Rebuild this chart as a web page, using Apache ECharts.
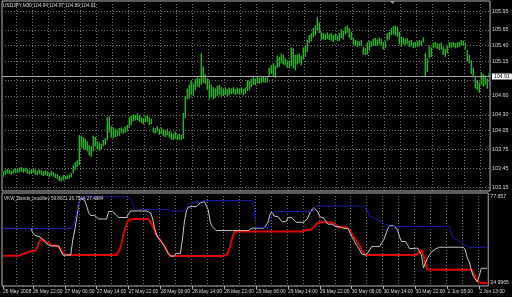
<!DOCTYPE html>
<html><head><meta charset="utf-8">
<script src="https://cdn.jsdelivr.net/npm/echarts@6/dist/echarts.min.js"></script>
<style>html,body{margin:0;padding:0;background:#000;}#c{width:512px;height:297px;}</style>
</head><body><div id="c"></div>
<script>
// ---------- texts ----------
const symbolTitle = 'USDJPY,M30 104.94 104.97 104.89 104.91';
const indicatorTitle = 'VKW_Bands_modifiey 59.8671 26.7544 27.4984';

// ---------- time axis ----------
const sessions = [
  { start: Date.UTC(2008, 4, 26, 14, 30), bars: 211 },
  { start: Date.UTC(2008, 5, 1, 23, 0), bars: 33 }
];
const MON = ['Jan','Feb','Mar','Apr','May','Jun','Jul','Aug','Sep','Oct','Nov','Dec'];
const categories = [];
sessions.forEach(s => {
  for (let k = 0; k < s.bars; k++) {
    const d = new Date(s.start + k * 1800000);
    categories.push(d.getUTCDate() + ' ' + MON[d.getUTCMonth()] + ' ' +
      String(d.getUTCHours()).padStart(2, '0') + ':' + String(d.getUTCMinutes()).padStart(2, '0'));
  }
});
const firstDateLabel = '26 May 2008';
const timeLabels = ['26 May 22:00','27 May 06:00','27 May 14:00','27 May 22:00','28 May 06:00','28 May 14:00',
  '28 May 22:00','29 May 06:00','29 May 14:00','29 May 22:00','30 May 06:00','30 May 14:00','30 May 22:00',
  '2 Jun 05:00','2 Jun 13:00'];

// ---------- price axis ----------
const priceGridValues = [105.95,105.65,105.40,105.15,104.85,104.60,104.30,104.05,103.75,103.45,103.15];
const priceLabelValues = [105.95,105.65,105.40,105.15,104.60,104.30,104.05,103.75,103.45,103.15];
const bidPrice = 104.91;
const indicatorLabelValues = [24.9965, 77.657];

// ---------- M30 bars: high / low ----------
const barHigh = [
103.40,103.42,103.44,103.43,103.41,103.43,103.45,103.44,103.46,103.47,
103.45,103.46,103.44,103.42,103.44,103.45,103.43,103.41,103.43,103.42,
103.40,103.42,103.40,103.38,103.41,103.39,103.37,103.36,103.33,103.31,
103.34,103.33,103.34,103.35,103.38,103.50,103.55,103.58,103.98,103.97,
103.95,103.92,103.88,103.82,103.80,103.97,103.95,103.88,103.86,103.84,
103.90,103.93,104.26,104.27,104.12,104.10,104.08,104.06,104.09,104.10,
104.08,104.11,104.14,104.27,104.29,104.31,104.30,104.32,104.29,104.27,
104.25,104.28,104.30,104.26,104.24,104.10,104.09,104.12,104.08,104.10,
104.07,104.05,104.08,104.04,104.02,104.00,104.03,103.99,104.00,103.98,
104.33,104.60,104.72,104.78,104.85,104.80,104.87,104.90,104.88,105.28,
105.07,104.95,104.88,104.85,104.78,104.74,104.72,104.76,104.78,104.74,
104.72,104.74,104.71,104.73,104.72,104.74,104.71,104.73,104.72,104.74,
104.71,104.73,104.85,104.84,104.87,104.90,104.88,104.91,104.89,104.90,
104.91,104.89,104.90,105.05,105.09,105.12,105.08,105.24,105.22,105.27,
105.25,105.20,105.17,105.16,105.37,105.36,105.25,105.26,105.28,105.24,
105.37,105.40,105.49,105.57,105.60,105.68,105.72,105.85,105.77,105.62,
105.60,105.59,105.61,105.58,105.60,105.57,105.59,105.56,105.60,105.66,
105.64,105.70,105.72,105.68,105.62,105.52,105.49,105.48,105.47,105.49,
105.38,105.36,105.45,105.48,105.47,105.51,105.52,105.50,105.53,105.51,
105.46,105.48,105.60,105.62,105.68,105.71,105.72,105.70,105.62,105.55,
105.53,105.51,105.52,105.48,105.49,105.45,105.46,105.47,105.49,105.48,
105.53,105.28,105.20,105.40,105.37,105.45,105.46,105.44,105.43,105.45,
105.38,105.35,105.40,105.46,105.45,105.46,105.44,105.45,105.46,105.49,
105.48,105.45,105.33,105.25,105.17,105.05,104.90,104.85,104.82,104.98,
104.95,104.92,104.88,104.97];
const barLow = [
103.31,103.35,103.37,103.36,103.35,103.37,103.38,103.38,103.39,103.40,
103.38,103.40,103.37,103.36,103.36,103.38,103.35,103.34,103.36,103.35,
103.33,103.35,103.33,103.31,103.34,103.32,103.30,103.28,103.25,103.24,
103.26,103.27,103.28,103.29,103.31,103.37,103.42,103.47,103.50,103.78,
103.76,103.74,103.72,103.66,103.64,103.72,103.80,103.75,103.73,103.74,
103.80,103.82,103.90,104.02,103.94,103.93,103.95,103.96,103.97,104.01,
104.00,104.02,104.04,104.10,104.14,104.20,104.21,104.22,104.19,104.17,
104.15,104.18,104.19,104.14,104.15,104.02,104.00,104.03,103.98,104.00,
103.96,103.95,103.98,103.94,103.91,103.90,103.92,103.90,103.91,103.90,
103.92,104.25,104.55,104.56,104.62,104.60,104.70,104.75,104.74,104.78,
104.81,104.79,104.70,104.55,104.58,104.55,104.57,104.60,104.62,104.58,
104.60,104.62,104.59,104.61,104.63,104.64,104.62,104.63,104.62,104.64,
104.61,104.63,104.68,104.70,104.74,104.78,104.77,104.80,104.80,104.81,
104.82,104.81,104.82,104.92,104.95,104.90,104.89,105.05,105.06,105.12,
105.10,105.09,105.05,105.04,105.08,105.04,105.01,105.10,105.12,105.09,
105.18,105.22,105.30,105.44,105.47,105.53,105.56,105.65,105.60,105.49,
105.50,105.49,105.51,105.49,105.48,105.46,105.49,105.47,105.48,105.52,
105.50,105.58,105.60,105.52,105.49,105.42,105.40,105.38,105.39,105.40,
105.26,105.25,105.26,105.32,105.38,105.40,105.40,105.39,105.42,105.40,
105.34,105.36,105.48,105.50,105.57,105.58,105.56,105.54,105.42,105.38,
105.42,105.41,105.43,105.38,105.39,105.36,105.37,105.38,105.39,105.40,
105.45,104.90,104.98,105.20,105.22,105.36,105.37,105.35,105.33,105.34,
105.25,105.22,105.28,105.36,105.37,105.38,105.36,105.37,105.38,105.40,
105.40,105.33,105.15,105.12,104.95,104.90,104.72,104.70,104.65,104.78,
104.75,104.78,104.72,104.89];

// ---------- indicator buffers ----------
const bandUpper = [
58.4,58.4,58.4,58.4,58.4,58.4,58.4,58.4,58.4,58.4,58.4,58.4,58.4,58.4,58.4,58.4,58.4,58.4,
58.4,58.4,58.4,58.4,58.4,58.4,58.4,58.4,58.4,58.4,58.4,58.4,58.4,58.4,58.4,58.4,58.4,58.4,
62.3,68.5,74.0,77.0,
77.657,77.657,77.657,77.657,77.657,77.657,77.657,77.657,77.657,77.657,77.657,77.657,77.657,
77.657,77.657,77.657,77.657,77.657,77.657,77.657,77.657,77.657,77.657,77.657,77.657,
74.0,70.9,
70.0,70.0,70.0,70.0,70.0,70.0,70.0,70.0,70.0,70.0,70.0,70.0,70.0,70.0,70.0,70.0,
69.1,69.1,69.1,69.1,69.1,69.1,69.1,69.1,69.1,
70.9,72.8,73.7,
74.6,74.6,74.6,74.6,74.6,
75.5,75.5,75.5,75.5,75.5,75.5,75.5,75.5,75.5,75.5,75.5,75.5,75.5,
75.5,75.5,75.5,75.5,75.5,75.5,75.5,75.5,75.5,75.5,75.5,75.5,75.5,
69.7,
59.0,59.0,59.0,59.0,59.0,59.0,59.0,
63.6,67.9,
68.8,68.8,68.8,68.8,68.8,68.8,68.8,68.8,68.8,68.8,68.8,68.8,68.8,68.8,68.8,68.8,68.8,68.8,68.8,68.8,68.8,
72.1,72.1,72.1,72.1,72.1,72.1,72.1,72.1,72.1,72.1,72.1,72.1,72.1,
72.1,72.1,72.1,72.1,72.1,72.1,72.1,72.1,72.1,72.1,72.1,72.1,72.1,
69.1,66.0,65.4,64.8,64.2,63.6,63.0,62.3,61.7,60.8,60.2,
59.6,59.6,59.6,59.6,59.6,59.6,59.6,59.6,59.6,59.6,59.6,59.6,59.6,59.6,59.6,59.6,
59.6,59.6,59.6,59.6,59.6,59.6,59.6,59.6,59.6,59.6,59.6,59.6,59.6,59.6,59.6,
55.0,52.55,51.6,51.3,50.1,49.5,48.9,48.0,
46.9,46.9,46.9,46.9,46.9,46.9,46.9,46.9,46.9,46.9,46.9];
const bandLower = [
41.7,41.7,41.7,41.7,41.7,41.7,41.7,41.7,41.7,
42.1,42.8,43.4,43.7,44.0,
44.6,44.6,44.6,
46.4,49.5,51.9,51.3,50.4,49.5,48.9,
47.8,47.8,47.8,47.8,47.8,
45.8,43.4,
42.1,42.1,42.1,42.1,42.1,42.1,42.1,42.1,42.1,42.1,42.1,42.1,42.1,42.1,
42.1,42.1,42.1,42.1,42.1,42.1,42.1,42.1,42.1,42.1,42.1,42.1,42.1,42.1,
47.0,52.55,57.45,61.1,63.6,
64.2,64.2,64.2,64.2,64.2,64.2,64.2,64.2,64.2,64.2,64.2,
59.9,57.45,54.4,52.55,50.7,49.2,47.3,45.2,43.4,
41.5,41.5,41.5,41.5,41.5,41.5,41.5,41.5,41.5,41.5,41.5,41.5,41.5,41.5,
41.5,41.5,41.5,41.5,41.5,41.5,41.5,41.5,41.5,41.5,41.5,41.5,41.5,41.5,
42.1,44.0,47.7,52.55,56.2,
56.5,56.5,56.5,56.5,56.5,56.5,56.5,56.5,56.5,56.5,56.5,56.5,56.5,56.5,56.5,56.5,56.5,
56.5,56.5,56.5,56.5,56.5,56.5,56.5,56.5,56.5,56.5,56.5,56.5,56.5,56.5,56.5,56.5,56.5,
57.45,57.45,57.45,57.45,57.45,
59.3,61.1,
62.2,62.2,62.2,62.2,62.2,62.2,62.2,62.2,62.2,
60.5,
59.1,59.1,59.1,59.1,59.1,59.1,
57.45,55.0,53.2,51.3,50.3,47.7,45.2,43.4,
42.1,42.1,42.1,42.1,42.1,42.1,42.1,42.1,42.1,42.1,42.1,42.1,42.1,
42.1,42.1,42.1,42.1,42.1,42.1,42.1,42.1,42.1,42.1,42.1,42.1,42.1,
42.8,44.0,45.2,41.5,36.6,
33.1,33.1,33.1,33.1,33.1,33.1,33.1,33.1,33.1,33.1,33.1,33.1,
33.1,33.1,33.1,33.1,33.1,33.1,33.1,33.1,33.1,33.1,33.1,
31.1,28.7,26.2,
24.9965,24.9965,24.9965,24.9965,24.9965];
const bandMid = [
58.4,58.4,58.4,58.4,58.4,58.4,58.4,58.4,58.4,58.4,58.4,58.4,58.4,58.4,58.4,
55.6,54.1,53.8,53.5,52.9,51.9,50.4,48.9,
47.7,47.7,47.7,47.7,47.7,47.7,
44.6,
42.1,42.1,42.1,42.1,42.1,
51.3,57.45,64.8,74.0,76.7,76.1,75.5,72.1,67.9,
66.3,66.3,66.3,66.3,
64.2,64.2,64.2,64.2,64.2,
68.8,68.8,68.8,68.8,
66.6,
65.1,65.1,65.1,65.1,65.1,
67.2,
69.1,69.1,69.1,69.1,69.1,69.1,69.1,69.1,69.1,69.1,
67.9,64.8,58.7,54.4,52.55,51.3,49.5,47.7,45.2,42.8,
41.5,41.5,41.5,
43.1,43.1,43.1,
51.3,62.3,69.1,71.5,
71.8,71.8,71.8,71.8,71.8,
74.0,
74.9,74.9,74.9,
69.7,62.3,
59.6,59.6,
57.1,57.1,57.1,57.1,57.1,57.1,57.1,57.1,57.1,57.1,57.1,57.1,57.1,57.1,57.1,57.1,57.1,57.1,
58.6,58.6,58.6,58.6,58.6,58.6,58.6,58.6,
62.3,67.2,68.5,66.0,
65.6,65.6,65.6,
62.5,62.5,62.5,
65.0,65.0,65.0,65.0,
62.2,62.2,62.2,62.2,62.2,62.2,
64.8,67.9,69.7,71.2,71.7,68.5,65.6,
64.6,64.6,64.6,
61.0,61.0,61.0,61.0,
59.5,59.5,59.5,
58.5,58.5,58.5,58.5,
56.2,53.3,51.3,48.9,47.2,45.2,42.8,
42.1,42.1,42.1,
45.2,
47.3,47.3,47.3,47.3,47.3,
49.5,51.3,54.4,58.1,
60.1,60.1,60.1,60.1,
57.45,53.2,
50.4,50.4,50.4,
48.3,
46.1,46.1,46.1,46.1,
46.4,46.1,42.1,34.2,33.0,40.3,42.1,
44.0,44.0,
45.8,
46.9,46.9,46.9,46.9,46.9,46.9,46.9,46.9,46.9,46.9,46.9,46.9,46.9,46.9,
45.2,40.3,37.9,33.0,29.0,27.4,25.6,29.3,
34.0,34.0,34.0,34.0];

// ---------- styles ----------
const FONT = 'Liberation Sans';
const TXT = '#dcdcdc';
const GRIDC = '#777777';
const FRAME = '#b4b4b4';
const BAR_GREEN = '#00d000';

function isTimeLabel(i) { return i === 0 || timeLabels.indexOf(categories[i]) >= 0; }
function timeLabelText(i) { return i === 0 ? firstDateLabel : categories[i]; }
const vGrid = (i) => i % 8 === 7;

const barData = categories.map((c, i) => [i, barLow[i], barHigh[i]]);

const chart = echarts.init(document.getElementById('c'), null, { renderer: 'canvas', width: 512, height: 297 });
chart.setOption({
  animation: false,
  backgroundColor: '#000000',
  title: [
    { text: symbolTitle, left: 3, top: 3, padding: 0,
      textStyle: { color: TXT, fontSize: 4.8, fontWeight: 'normal', fontFamily: FONT } },
    { text: indicatorTitle, left: 4, top: 196, padding: 0,
      textStyle: { color: TXT, fontSize: 4.6, fontWeight: 'normal', fontFamily: FONT } }
  ],
  graphic: [
    { type: 'polygon', left: 390, top: 1, shape: { points: [[0, 0], [5, 0], [2.5, 3]] },
      style: { fill: '#9a9a9a' }, silent: true }
  ],
  grid: [
    { left: 2, top: 1, width: 488, height: 190, show: true, borderColor: FRAME, borderWidth: 1 },
    { left: 2, top: 193, width: 488, height: 93, show: true, borderColor: FRAME, borderWidth: 1 }
  ],
  xAxis: [
    { type: 'category', gridIndex: 0, data: categories, boundaryGap: true,
      axisLine: { show: false }, axisTick: { show: false }, axisLabel: { show: false },
      splitLine: { show: true, interval: vGrid, lineStyle: { color: GRIDC, width: 1, type: [1, 2] } } },
    { type: 'category', gridIndex: 1, data: categories, boundaryGap: true,
      axisLine: { show: false },
      axisTick: { show: true, interval: isTimeLabel, alignWithLabel: true, length: 3, lineStyle: { color: FRAME } },
      axisLabel: { show: true, interval: isTimeLabel, formatter: (v, i) => timeLabelText(i), align: 'left',
        showMinLabel: true, showMaxLabel: true, hideOverlap: false,
        margin: 3, color: TXT, fontSize: 4.9, fontFamily: FONT },
      splitLine: { show: true, interval: vGrid, lineStyle: { color: GRIDC, width: 1, type: [1, 2] } } }
  ],
  yAxis: [
    { type: 'value', gridIndex: 0, position: 'right', min: 103.09, max: 106.11,
      axisLine: { show: false },
      axisTick: { show: false, customValues: priceGridValues },
      axisLabel: { customValues: priceLabelValues, formatter: v => v.toFixed(2), margin: 2,
        color: TXT, fontSize: 5.4, fontFamily: FONT },
      splitLine: { show: true, lineStyle: { color: GRIDC, width: 1, type: [1, 2] } } },
    { type: 'value', gridIndex: 1, position: 'right', min: 23.16, max: 80.106,
      axisLine: { show: false },
      axisTick: { show: false, customValues: indicatorLabelValues },
      axisLabel: { customValues: indicatorLabelValues, formatter: v => String(v), margin: 2,
        color: TXT, fontSize: 5.2, fontFamily: FONT },
      splitLine: { show: false } }
  ],
  series: [
    { type: 'custom', name: 'USDJPY', xAxisIndex: 0, yAxisIndex: 0, data: barData,
      encode: { x: 0, y: [1, 2] }, z: 3, silent: true,
      renderItem: function (params, api) {
        const lo = api.coord([api.value(0), api.value(1)]);
        const hi = api.coord([api.value(0), api.value(2)]);
        const x = Math.round(lo[0] - 1);
        const h = Math.max(1, lo[1] - hi[1]);
        return { type: 'group', children: [
          { type: 'rect', shape: { x: x, y: hi[1], width: 2, height: h },
            style: { fill: '#005a00' } },
          { type: 'rect', shape: { x: x + 1, y: hi[1], width: 1, height: h },
            style: { fill: BAR_GREEN } }
        ] };
      },
      markLine: { silent: true, symbol: 'none', animation: false,
        data: [{ yAxis: bidPrice }],
        lineStyle: { color: '#a8a8a8', width: 1, type: 'solid' },
        label: { show: true, position: 'end', distance: 2, formatter: () => bidPrice.toFixed(2),
          backgroundColor: '#ffffff', color: '#000000', padding: [1, 2, 0, 2],
          fontSize: 5.2, fontFamily: FONT } } },
    { type: 'line', name: 'lower', xAxisIndex: 1, yAxisIndex: 1, data: bandLower, symbol: 'none',
      lineStyle: { color: '#e00000', width: 2 }, z: 2, silent: true },
    { type: 'line', name: 'mid', xAxisIndex: 1, yAxisIndex: 1, data: bandMid, symbol: 'none',
      lineStyle: { color: '#c8c8c8', width: 1 }, z: 3, silent: true },
    { type: 'line', name: 'upper', xAxisIndex: 1, yAxisIndex: 1, data: bandUpper, symbol: 'none',
      lineStyle: { color: '#1c1cb0', width: 1 }, z: 4, silent: true }
  ]
});
</script>
</body></html>
